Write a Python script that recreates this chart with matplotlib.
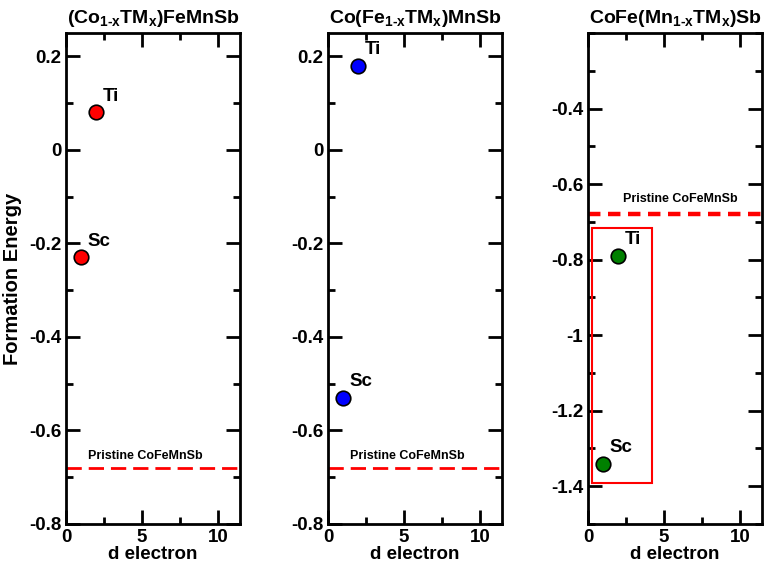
import numpy as np
import matplotlib
matplotlib.use('Agg')
import matplotlib.pyplot as plt
from matplotlib.patches import Rectangle
from matplotlib.ticker import MultipleLocator, FixedLocator

plt.rcParams['font.family'] = ['Liberation Sans', 'DejaVu Sans']
plt.rcParams['font.weight'] = 'bold'
plt.rcParams['mathtext.fontset'] = 'custom'
plt.rcParams['mathtext.rm'] = 'Liberation Sans:bold'
plt.rcParams['mathtext.it'] = 'Liberation Sans:bold'
plt.rcParams['mathtext.bf'] = 'Liberation Sans:bold'

# ── Data ──────────────────────────────────────────────────────────────────────
titles = ['(Co$_{\\text{1-x}}$TM$_\\text{x}$)FeMnSb',
          'Co(Fe$_{\\text{1-x}}$TM$_\\text{x}$)MnSb',
          'CoFe(Mn$_{\\text{1-x}}$TM$_\\text{x}$)Sb']
elements = ['Sc', 'Ti']
d_electron = [1, 2]
energy_co = [-0.23, 0.08]
energy_fe = [-0.53, 0.18]
energy_mn = [-1.34, -0.79]
pristine = -0.68
colors = ['#ff0000', '#0000ff', '#008000']

series = [energy_co, energy_fe, energy_mn]
ylims = [(-0.8, 0.25), (-0.8, 0.25), (-1.5, -0.2)]

# ── Plotting ──────────────────────────────────────────────────────────────────
fig = plt.figure(figsize=(7.64, 5.68), dpi=100)
lefts = [66, 328, 588]
axes = [fig.add_axes([l / 764, 44 / 568, 174 / 764, 491 / 568]) for l in lefts]

for i, ax in enumerate(axes):
    ax.set_xlim(0, 11.45)
    ax.set_ylim(*ylims[i])
    ax.xaxis.set_major_locator(MultipleLocator(5))
    ax.xaxis.set_minor_locator(MultipleLocator(2.5))
    if i == 2:
        ax.yaxis.set_major_locator(FixedLocator([-1.4, -1.2, -1.0, -0.8, -0.6, -0.4]))
    else:
        ax.yaxis.set_major_locator(MultipleLocator(0.2))
    ax.yaxis.set_minor_locator(MultipleLocator(0.1))
    ax.yaxis.set_major_formatter(plt.FuncFormatter(lambda v, p: f'{v:g}' if abs(v) > 1e-9 else '0'))
    ax.tick_params(which='both', direction='in', top=True, right=True, width=2, labelsize=13.5)
    ax.tick_params(which='major', length=10)
    ax.tick_params(which='minor', length=5)
    for sp in ax.spines.values():
        sp.set_linewidth(2)

    span = ylims[i][1] - ylims[i][0]
    ax.scatter(d_electron, series[i], s=110, color=colors[i], edgecolors='black',
               linewidths=1.2, zorder=3)
    for x, y, el in zip(d_electron, series[i], elements):
        ax.text(x + 0.4, y + span * 0.016, el,
                fontsize=13.5, fontweight='bold', va='bottom', ha='left')

    if i < 2:
        ax.axhline(pristine, color='red', linestyle=(0, (5.5, 2.5)), linewidth=2)
        ax.text(5.2, pristine + span * 0.011, 'Pristine CoFeMnSb', fontsize=9,
                fontweight='bold', ha='center', va='bottom')
    else:
        ax.axhline(pristine, color='red', linestyle=(0, (2.8, 1.7)), linewidth=3.2)
        ax.text(6.1, pristine + span * 0.019, 'Pristine CoFeMnSb', fontsize=9,
                fontweight='bold', ha='center', va='bottom')

    ax.set_title(titles[i], fontsize=14, fontweight='bold', pad=7)
    ax.set_xlabel('d electron', fontsize=13.5, fontweight='bold', labelpad=0)

axes[0].set_ylabel('Formation Energy', fontsize=14.5, fontweight='bold')
axes[0].yaxis.set_label_coords(-0.255, 0.5)
axes[2].add_patch(Rectangle((0.26, -1.392), 3.94, 0.677, fill=False,
                            edgecolor='red', linewidth=1.5, zorder=2))

plt.savefig('out.png', dpi=100)
